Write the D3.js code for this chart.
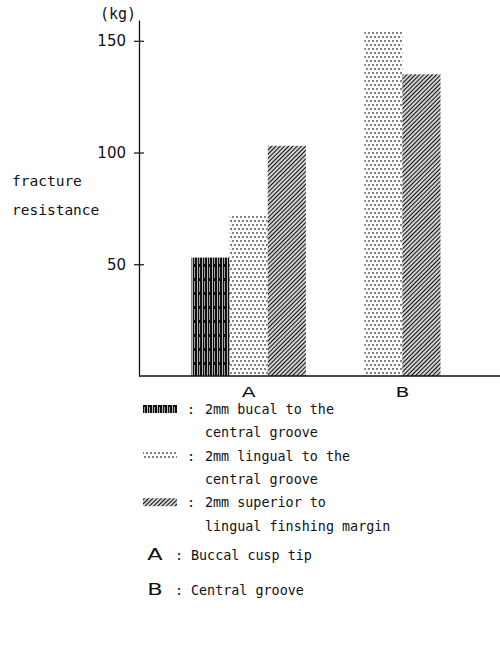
<!DOCTYPE html>
<html>
<head>
<meta charset="utf-8">
<script src="https://cdn.jsdelivr.net/npm/d3@7"></script>
<style>
  html, body { margin: 0; padding: 0; background: #fff; }
  #container { width: 500px; height: 647px; }
  text { fill: #111; }
</style>
</head>
<body>
<div id="container"></div>
<script>
// data
const groups = ["A", "B"];
const groupNames = ["Buccal cusp tip", "Central groove"];
const seriesKeys = ["bucal", "lingual", "superior"];
const seriesLines = [
  ["2mm bucal to the", "central groove"],
  ["2mm lingual to the", "central groove"],
  ["2mm superior to", "lingual finshing margin"]
];
const bucal = [53, null];
const lingual = [72, 154];
const superior = [103, 135];
const yTicks = [50, 100, 150];

const values = { bucal, lingual, superior };

const width = 500;
const height = 647;
const marginLeft = 139;
const baseY = 376;
const topY = 20;

const svg = d3.select("#container")
  .append("svg")
  .attr("width", width)
  .attr("height", height)
  .attr("viewBox", [0, 0, width, height]);

// hatch patterns, like the printed figure
const defs = svg.append("defs");

const p1 = defs.append("pattern")
  .attr("id", "pat-bucal")
  .attr("patternUnits", "userSpaceOnUse")
  .attr("width", 5).attr("height", 14);
p1.append("rect").attr("width", 5).attr("height", 14).attr("fill", "#111");
p1.append("rect").attr("x", 2.2).attr("width", 0.7).attr("height", 14).attr("fill", "#fff");
p1.append("rect").attr("x", 4.2).attr("y", 1).attr("width", 0.6).attr("height", 11).attr("fill", "#fff");

const p2 = defs.append("pattern")
  .attr("id", "pat-lingual")
  .attr("patternUnits", "userSpaceOnUse")
  .attr("width", 8).attr("height", 8);
[[1, 1], [5, 1], [3, 5], [7, 5]].forEach(([cx, cy]) => {
  p2.append("rect").attr("x", cx - 0.75).attr("y", cy - 0.75)
    .attr("width", 1.5).attr("height", 1.5).attr("fill", "#222");
});

const p3 = defs.append("pattern")
  .attr("id", "pat-superior")
  .attr("patternUnits", "userSpaceOnUse")
  .attr("width", 3).attr("height", 3)
  .attr("patternTransform", "rotate(45)");
p3.append("line").attr("x1", 1.5).attr("x2", 1.5).attr("y1", 0).attr("y2", 3)
  .attr("stroke", "#111").attr("stroke-width", 1.4);

const fills = {
  bucal: "url(#pat-bucal)",
  lingual: "url(#pat-lingual)",
  superior: "url(#pat-superior)"
};

// scales
const x = d3.scaleBand()
  .domain(groups)
  .range([marginLeft, 493])
  .paddingInner(0.15)
  .paddingOuter(0.39);

const xs = d3.scaleBand()
  .domain(seriesKeys)
  .range([0, x.bandwidth()]);

const y = d3.scaleLinear()
  .domain([0, 159.3])
  .range([baseY, topY]);

// y axis
svg.append("g")
  .attr("transform", `translate(${marginLeft},0)`)
  .call(d3.axisLeft(y).tickValues(yTicks).tickSize(5).tickSizeOuter(0).tickPadding(8))
  .call(g => g.select(".domain").attr("stroke", "#111").attr("stroke-width", 1.3))
  .call(g => g.selectAll(".tick line").attr("stroke", "#111").attr("stroke-width", 1.2).clone().attr("x2", 5))
  .call(g => g.selectAll(".tick text")
    .attr("font-family", "DejaVu Sans, sans-serif")
    .attr("font-size", 15)
    .attr("fill", "#111"));

svg.append("text")
  .attr("x", marginLeft - 3)
  .attr("y", 19)
  .attr("text-anchor", "end")
  .attr("font-family", "DejaVu Sans Mono, monospace")
  .attr("font-size", 15)
  .text("(kg)");

svg.append("g")
  .attr("font-family", "DejaVu Sans Mono, monospace")
  .attr("font-size", 14.5)
  .selectAll("text")
  .data(["fracture", "resistance"])
  .join("text")
  .attr("x", 12)
  .attr("y", (d, i) => 186 + i * 29)
  .text(d => d);

// bars
const bars = [];
groups.forEach((g, gi) => {
  seriesKeys.forEach(k => {
    const v = values[k][gi];
    if (v != null) bars.push({ group: g, key: k, value: v });
  });
});

svg.append("g")
  .selectAll("rect")
  .data(bars)
  .join("rect")
  .attr("x", d => x(d.group) + xs(d.key))
  .attr("y", d => y(d.value))
  .attr("width", xs.bandwidth())
  .attr("height", d => y(0) - y(d.value))
  .attr("fill", d => fills[d.key]);

// x axis line
svg.append("line")
  .attr("x1", marginLeft).attr("x2", width)
  .attr("y1", y(0)).attr("y2", y(0))
  .attr("stroke", "#111").attr("stroke-width", 1.3);

// group labels centred under their bars
svg.append("g")
  .attr("font-family", "DejaVu Sans, sans-serif")
  .attr("font-size", 14)
  .attr("text-anchor", "middle")
  .selectAll("text")
  .data(groups)
  .join("text")
  .attr("transform", g => {
    const present = bars.filter(b => b.group === g);
    const cx = d3.mean(present, b => x(b.group) + xs(b.key) + xs.bandwidth() / 2);
    return `translate(${cx},${baseY + 21}) scale(1.45,1)`;
  })
  .text(d => d);

// legend
const legend = svg.append("g")
  .attr("font-family", "DejaVu Sans Mono, monospace")
  .attr("font-size", 13.4);

const rowY = 414;
const rowStep = 23.3;

seriesKeys.forEach((k, i) => {
  const y0 = rowY + i * 2 * rowStep;
  legend.append("rect")
    .attr("x", 143).attr("y", y0 - 9)
    .attr("width", 34).attr("height", 8)
    .attr("fill", fills[k]);
  legend.append("text").attr("x", 187).attr("y", y0).text(":");
  legend.append("text").attr("x", 205).attr("y", y0).text(seriesLines[i][0]);
  legend.append("text").attr("x", 205).attr("y", y0 + rowStep).text(seriesLines[i][1]);
});

groups.forEach((g, i) => {
  const y0 = 560 + i * 35;
  legend.append("text")
    .attr("transform", `translate(155,${y0}) scale(1.5,1)`)
    .attr("text-anchor", "middle")
    .attr("font-family", "DejaVu Sans, sans-serif")
    .attr("font-size", 15)
    .text(g);
  legend.append("text").attr("x", 175).attr("y", y0).text(":");
  legend.append("text").attr("x", 191).attr("y", y0).text(groupNames[i]);
});
</script>
</body>
</html>
